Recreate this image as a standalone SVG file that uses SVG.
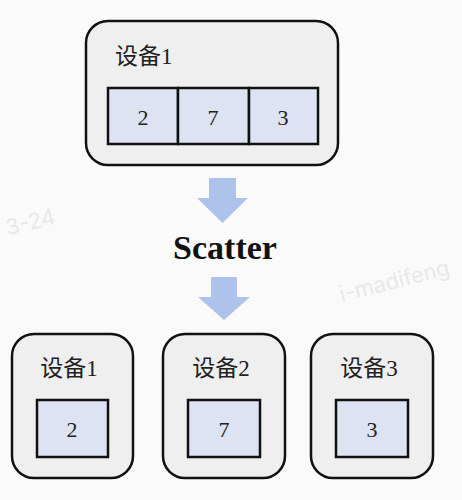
<svg xmlns="http://www.w3.org/2000/svg" width="462" height="500" viewBox="0 0 462 500">
<style>
.dev{fill:#efefef;stroke:#111;stroke-width:2.5}
.cell{fill:#dde3f3;stroke:#111;stroke-width:2.5}
.lbl{font-family:"Liberation Serif","Noto Sans CJK SC",serif;font-size:23px;fill:#222}
.num{font-family:"Liberation Serif",serif;font-size:22px;fill:#222;text-anchor:middle}
.arr{fill:#aec3ec}
.wm{font-family:"Inter","Noto Sans",sans-serif;font-size:22px;fill:#e8e8e8}
</style>
<rect width="462" height="500" fill="#fafafa"/>
<text class="wm" x="5" y="231" transform="rotate(-14 25 222)">3-24</text>
<text class="wm" x="336" y="288" transform="rotate(-14 395 272)">i-madifeng</text>
<g id="src">
<rect class="dev" x="86" y="21" width="252" height="144" rx="22"/>
<text class="lbl" x="115" y="64">设备1</text>
<rect class="cell" x="108" y="88" width="70" height="56"/>
<rect class="cell" x="178" y="88" width="71" height="56"/>
<rect class="cell" x="249" y="88" width="69" height="56"/>
<text class="num" x="143" y="125">2</text>
<text class="num" x="213" y="125">7</text>
<text class="num" x="283" y="125">3</text>
</g>
<g id="connectors">
<path class="arr" d="M209 178H236V198H248L222.5 223L197 198H209Z"/>
<text x="225" y="259" text-anchor="middle" font-family="Liberation Serif,serif" font-weight="bold" font-size="34" fill="#111">Scatter</text>
<path class="arr" d="M211 277H237V297H250L224 320L198 297H211Z"/>
</g>
<g id="dev1">
<rect class="dev" x="12" y="334" width="121" height="144" rx="22"/>
<text class="lbl" x="69" y="376" text-anchor="middle">设备1</text>
<rect class="cell" x="37" y="400" width="71" height="57"/>
<text class="num" x="72" y="437">2</text>
</g>
<g id="dev2">
<rect class="dev" x="163" y="334" width="122" height="144" rx="22"/>
<text class="lbl" x="221" y="376" text-anchor="middle">设备2</text>
<rect class="cell" x="188" y="400" width="72" height="57"/>
<text class="num" x="224" y="437">7</text>
</g>
<g id="dev3">
<rect class="dev" x="311" y="334" width="122" height="144" rx="22"/>
<text class="lbl" x="369" y="376" text-anchor="middle">设备3</text>
<rect class="cell" x="336" y="400" width="72" height="57"/>
<text class="num" x="372" y="437">3</text>
</g>
</svg>
